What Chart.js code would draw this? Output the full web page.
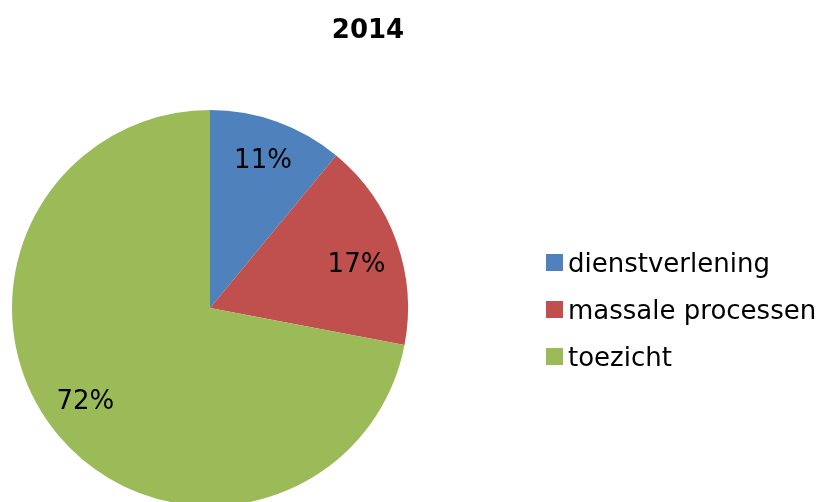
<!DOCTYPE html>
<html>
<head>
<meta charset="utf-8">
<script src="https://cdn.jsdelivr.net/npm/chart.js@4.4.1/dist/chart.umd.min.js"></script>
<style>
  html, body { margin:0; padding:0; background:#fff; overflow:hidden; }
  body { width:821px; height:502px; position:relative; font-family:"DejaVu Sans", Verdana, sans-serif; }
  #wrap { position:absolute; left:0; top:0; width:821px; height:520px; }
  #title { position:absolute; left:268px; width:200px; top:12px; text-align:center; font-weight:bold; font-size:26px; line-height:34px; color:#000; }
  #legend { position:absolute; left:546px; top:239px; }
  .row { display:flex; align-items:center; height:47px; font-size:26px; color:#000; white-space:nowrap; }
  .dot { width:17px; height:17px; margin-right:5px; display:inline-block; }
</style>
</head>
<body>
<div id="wrap"><canvas id="pie" width="821" height="520"></canvas></div>
<div id="title"></div>
<div id="legend"></div>
<script>
// data
const chartTitle = "2014";
const categories = ["dienstverlening", "massale processen", "toezicht"];
const shares = [11, 17, 72];
const sliceColors = ["#4F81BD", "#C0504D", "#9BBB59"];
// label placement inside each slice (fraction of radius, angle nudge in degrees)
const labelRadius = [0.79, 0.77, 0.79];
const labelNudge = [0, 3.7, 2.4];

function $(id){ return document.getElementById(id); }

$("title").textContent = chartTitle;

// legend rows
categories.forEach((name, i) => {
  const row = document.createElement("div"); row.className = "row";
  const dot = document.createElement("span"); dot.className = "dot"; dot.style.background = sliceColors[i];
  const label = document.createElement("span"); label.textContent = name;
  row.appendChild(dot); row.appendChild(label);
  $("legend").appendChild(row);
});

// percent labels inside slices
const pctLabels = {
  id: "pctLabels",
  afterDatasetsDraw(chart) {
    const ctx = chart.ctx;
    const meta = chart.getDatasetMeta(0);
    const total = shares.reduce((a, b) => a + b, 0);
    ctx.save();
    ctx.font = "26px 'DejaVu Sans'";
    ctx.fillStyle = "#000";
    ctx.textAlign = "center";
    ctx.textBaseline = "middle";
    meta.data.forEach((arc, i) => {
      const mid = (arc.startAngle + arc.endAngle) / 2 + labelNudge[i] * Math.PI / 180;
      const r = arc.outerRadius * labelRadius[i];
      const x = arc.x + Math.cos(mid) * r;
      const y = arc.y + Math.sin(mid) * r;
      ctx.fillText(Math.round(shares[i] / total * 100) + "%", x, y);
    });
    ctx.restore();
  }
};

new Chart($("pie"), {
  type: "pie",
  data: {
    labels: categories,
    datasets: [{ data: shares, backgroundColor: sliceColors, borderWidth: 0, hoverOffset: 0 }]
  },
  options: {
    responsive: false,
    animation: false,
    events: [],
    layout: { padding: { left: 12, right: 413, top: 110, bottom: 14 } },
    plugins: { legend: { display: false }, title: { display: false }, tooltip: { enabled: false } }
  },
  plugins: [pctLabels]
});
</script>
</body>
</html>
